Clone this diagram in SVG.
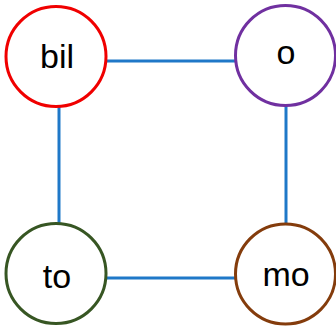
<svg xmlns="http://www.w3.org/2000/svg" width="336" height="334" viewBox="0 0 336 334">
<style>
.n{fill:#fff;stroke-width:3}
.t{font-family:"Liberation Sans",Arial,sans-serif;font-size:34px;fill:#000;text-anchor:middle}
.e{stroke:#1f78c8;stroke-width:3;fill:none}
</style>
<rect width="336" height="334" fill="#fff"/>
<g id="connectors">
<line class="e" x1="106" y1="61" x2="236" y2="61"/>
<line class="e" x1="59" y1="106" x2="59" y2="224"/>
<line class="e" x1="286" y1="105" x2="286" y2="224"/>
<line class="e" x1="106" y1="278" x2="236" y2="278"/>
</g>
<g id="bil"><circle class="n" cx="56" cy="56.5" r="50" stroke="#f00000"/><text class="t" x="57" y="68">bil</text></g>
<g id="o"><circle class="n" cx="285.5" cy="55.5" r="50" stroke="#7030a0"/><text class="t" x="286" y="64">o</text></g>
<g id="to"><circle class="n" cx="56" cy="273.5" r="50" stroke="#375623"/><text class="t" x="57" y="288">to</text></g>
<g id="mo"><circle class="n" cx="285.5" cy="274" r="50" stroke="#843c0c"/><text class="t" x="286" y="286">mo</text></g>
</svg>
